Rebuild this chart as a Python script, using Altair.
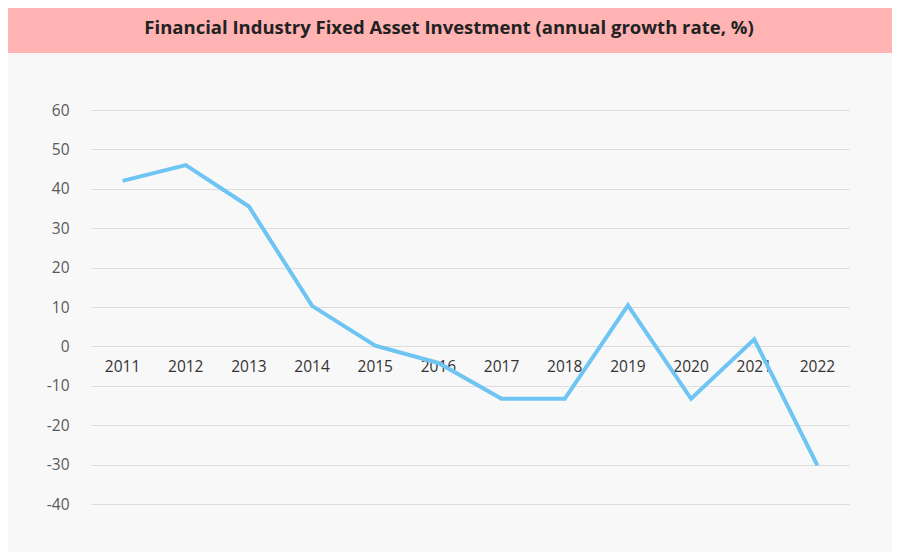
import altair as alt
import pandas as pd

years = ["2011", "2012", "2013", "2014", "2015", "2016", "2017", "2018", "2019", "2020", "2021", "2022"]
growth = [42.0, 46.0, 35.5, 10.3, 0.2, -4.2, -13.3, -13.3, 10.4, -13.3, 1.8, -30.2]
y_ticks = [60, 50, 40, 30, 20, 10, 0, -10, -20, -30, -40]
title_text = "Financial Industry Fixed Asset Investment (annual growth rate, %)"

df = pd.DataFrame({"year": years, "growth": growth})

W, H = 758, 394
PL, PT, PR, PB = 83, 102, 43, 48

x_enc = alt.X("year:N", sort=years, title=None,
              scale=alt.Scale(paddingInner=0, paddingOuter=0.5),
              axis=None)
y_scale = alt.Scale(domain=[-40, 60], nice=False, zero=False)

base = alt.Chart(df)

grid = base.mark_line(opacity=0).encode(
    x=x_enc,
    y=alt.Y("growth:Q", scale=y_scale, title=None,
            axis=alt.Axis(values=y_ticks, grid=True, gridColor="#dcdcdc", gridWidth=1,
                          ticks=False, domain=False, labelPadding=22,
                          labelOverlap=False, labelFlush=False, tickCount=11,
                          labelExpr="'' + datum.value",
                          labelFont="Open Sans", labelFontSize=15.5, labelColor="#5a5a5a")),
)

labels = base.mark_text(font="Open Sans", fontSize=15.5, color="#333333",
                        baseline="middle", dy=21).encode(
    x=x_enc,
    y=alt.datum(0),
    text="year:N",
)

line = base.mark_line(color="#6ec4f2", strokeWidth=4, strokeJoin="miter").encode(
    x=x_enc,
    y=alt.Y("growth:Q", scale=y_scale),
)

bar = alt.Chart(pd.DataFrame({"t": [title_text]})).mark_rect(color="#ffb3b3").encode(
    x=alt.value(-PL - 10), x2=alt.value(W + PR + 10),
    y=alt.value(-PT - 10), y2=alt.value(-PT + 45),
)
title = alt.Chart(pd.DataFrame({"t": [title_text]})).mark_text(
    font="Open Sans", fontSize=18.5, fontWeight="bold", color="#222222",
    align="center", baseline="middle").encode(
    x=alt.value(W / 2 - 21), y=alt.value(-PT + 20), text="t:N")

chart = alt.layer(bar, title, grid, labels, line).properties(
    width=W, height=H,
    background="#f8f8f8",
    padding={"left": PL, "top": PT, "right": PR, "bottom": PB},
    autosize=alt.AutoSizeParams(type="none"),
).configure_view(stroke=None)

chart.save("out.html", embed_options={"renderer": "svg", "actions": False})
